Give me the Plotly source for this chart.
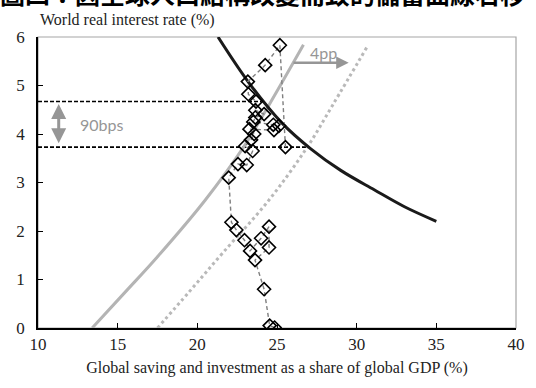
import plotly.graph_objects as go

# Observed world saving/investment share (% of GDP) and world real interest rate (%)
obs_share = [25.53, 25.18, 24.26, 23.17, 23.20, 23.68, 23.64, 24.19, 23.64, 23.51,
             24.77, 25.12, 24.81, 23.27, 23.57, 23.37, 23.00, 23.47, 23.10, 22.55,
             21.97, 22.14, 22.45, 22.96, 23.31, 24.00, 24.50, 24.50, 23.62, 24.19,
             24.54, 24.85]
obs_rate = [3.73, 5.83, 5.42, 5.08, 4.82, 4.67, 4.49, 4.41, 4.34, 4.25,
            4.19, 4.17, 4.08, 4.10, 4.00, 3.88, 3.75, 3.65, 3.36, 3.38,
            3.10, 2.18, 2.02, 1.81, 1.59, 1.85, 2.09, 1.66, 1.40, 0.80,
            0.05, 0.01]

# Investment demand curve
inv_share = [21.3, 23.25, 25.3, 27.1, 29.0, 31.1, 33.0, 35.0]
inv_rate = [6.0, 5.05, 4.23, 3.70, 3.25, 2.85, 2.50, 2.20]

# Saving supply curve, before the shift
sav_share = [13.4, 15.5, 17.5, 20.5, 22.9, 24.5, 26.66]
sav_rate = [0.0, 0.75, 1.47, 2.64, 3.73, 4.60, 5.84]

# Saving supply curve after the demographic shift
sav2_share = [17.5, 19.5, 21.6, 24.5, 26.9, 28.5, 30.66]
sav2_rate = [0.0, 0.75, 1.55, 2.64, 3.73, 4.60, 5.80]

# Equilibrium rates (dashed guides) and where each guide ends
eq_rate = [4.67, 3.73]
eq_share = [24.0, 27.0]

x_ticks = [10, 15, 20, 25, 30, 35, 40]
y_ticks = [0, 1, 2, 3, 4, 5, 6]

W, H = 536, 388
ML, MR, MT, MB = 38, 11, 37, 60
PW, PH = W - ML - MR, H - MT - MB


def py_to_paper(py):
    """Pixel row (from the top of the page) to paper y."""
    return (H - MB - py) / PH


serif = "Liberation Serif, Times New Roman, serif"
sans = "Lato, Carlito, sans-serif"
grey_txt = "#969696"

fig = go.Figure()

for r, s in zip(eq_rate, eq_share):
    fig.add_trace(go.Scatter(x=[10, s], y=[r, r], mode="lines",
                             line=dict(color="black", width=1.6, dash="4px,2px"),
                             hoverinfo="skip", showlegend=False))

fig.add_trace(go.Scatter(x=sav2_share, y=sav2_rate, mode="lines", line_shape="spline",
                         line=dict(color="#b9b9b9", width=3, dash="dot"),
                         showlegend=False))
fig.add_trace(go.Scatter(x=sav_share, y=sav_rate, mode="lines", line_shape="spline",
                         line=dict(color="#b4b4b4", width=3),
                         showlegend=False))
fig.add_trace(go.Scatter(x=inv_share, y=inv_rate, mode="lines", line_shape="spline",
                         line=dict(color="#1a1a1a", width=3),
                         showlegend=False))
fig.add_trace(go.Scatter(x=obs_share, y=obs_rate, mode="lines+markers",
                         line=dict(color="#7f7f7f", width=1.4, dash="4px,3px"),
                         marker=dict(symbol="diamond-open", size=10, color="black",
                                     line=dict(width=1.6, color="black")),
                         showlegend=False))

# 90bps double arrow and label
fig.add_annotation(x=11.3, y=eq_rate[0] - 0.05, ax=11.3, ay=eq_rate[1] + 0.05,
                   xref="x", yref="y", axref="x", ayref="y", text="",
                   showarrow=True, arrowside="end+start", arrowhead=2,
                   arrowsize=1, arrowwidth=3, arrowcolor=grey_txt)
fig.add_annotation(x=14.0, y=4.2, xref="x", yref="y", text="90bps", showarrow=False,
                   font=dict(family=sans, size=16, color=grey_txt))

# 4pp horizontal arrow and label
fig.add_annotation(x=29.5, y=5.47, ax=25.94, ay=5.47,
                   xref="x", yref="y", axref="x", ayref="y", text="",
                   showarrow=True, arrowhead=2, arrowsize=1, arrowwidth=2.5,
                   arrowcolor=grey_txt)
fig.add_annotation(x=27.93, y=5.69, xref="x", yref="y", text="4pp", showarrow=False,
                   font=dict(family=sans, size=16, color=grey_txt))

# Value-axis title above the plot
fig.add_annotation(x=0, xanchor="left", y=py_to_paper(20), yanchor="middle",
                   xref="paper", yref="paper",
                   text="World real interest rate (%)", showarrow=False,
                   font=dict(family=serif, size=16, color="#222"))

# Chart heading, running off the top edge
fig.add_annotation(x=-ML / PW, xanchor="left", xshift=-3,
                   y=py_to_paper(-7), yanchor="middle", xref="paper", yref="paper",
                   text="<b>圖四：因全球人口結構改變而致的儲蓄曲線右移</b>", showarrow=False,
                   font=dict(family="Noto Sans CJK TC", size=25, color="black"))

# Light frame on top and right
fig.add_shape(type="rect", xref="paper", yref="paper", x0=0, x1=1, y0=0, y1=1,
              line=dict(color="#a6a6a6", width=1.2), layer="below")

fig.update_xaxes(range=[10, 40], tickvals=x_ticks, ticktext=[str(v) for v in x_ticks],
                 showline=True, linecolor="black", linewidth=1.6,
                 ticks="inside", ticklen=5, tickwidth=1.4, tickcolor="black",
                 showgrid=False, zeroline=False,
                 tickfont=dict(family=serif, size=17, color="#222"),
                 title=dict(text="Global saving and investment as a share of global GDP (%)",
                            font=dict(family=serif, size=16, color="#222"), standoff=9))
fig.update_yaxes(range=[0, 6], tickvals=y_ticks, ticktext=[str(v) for v in y_ticks],
                 showline=True, linecolor="black", linewidth=1.6,
                 ticks="inside", ticklen=5, tickwidth=1.4, tickcolor="black",
                 ticklabelstandoff=8,
                 showgrid=False, zeroline=False,
                 tickfont=dict(family=serif, size=17, color="#222"))

fig.update_layout(width=W, height=H, margin=dict(l=ML, r=MR, t=MT, b=MB),
                  plot_bgcolor="white", paper_bgcolor="white")

fig.write_html("out.html")
